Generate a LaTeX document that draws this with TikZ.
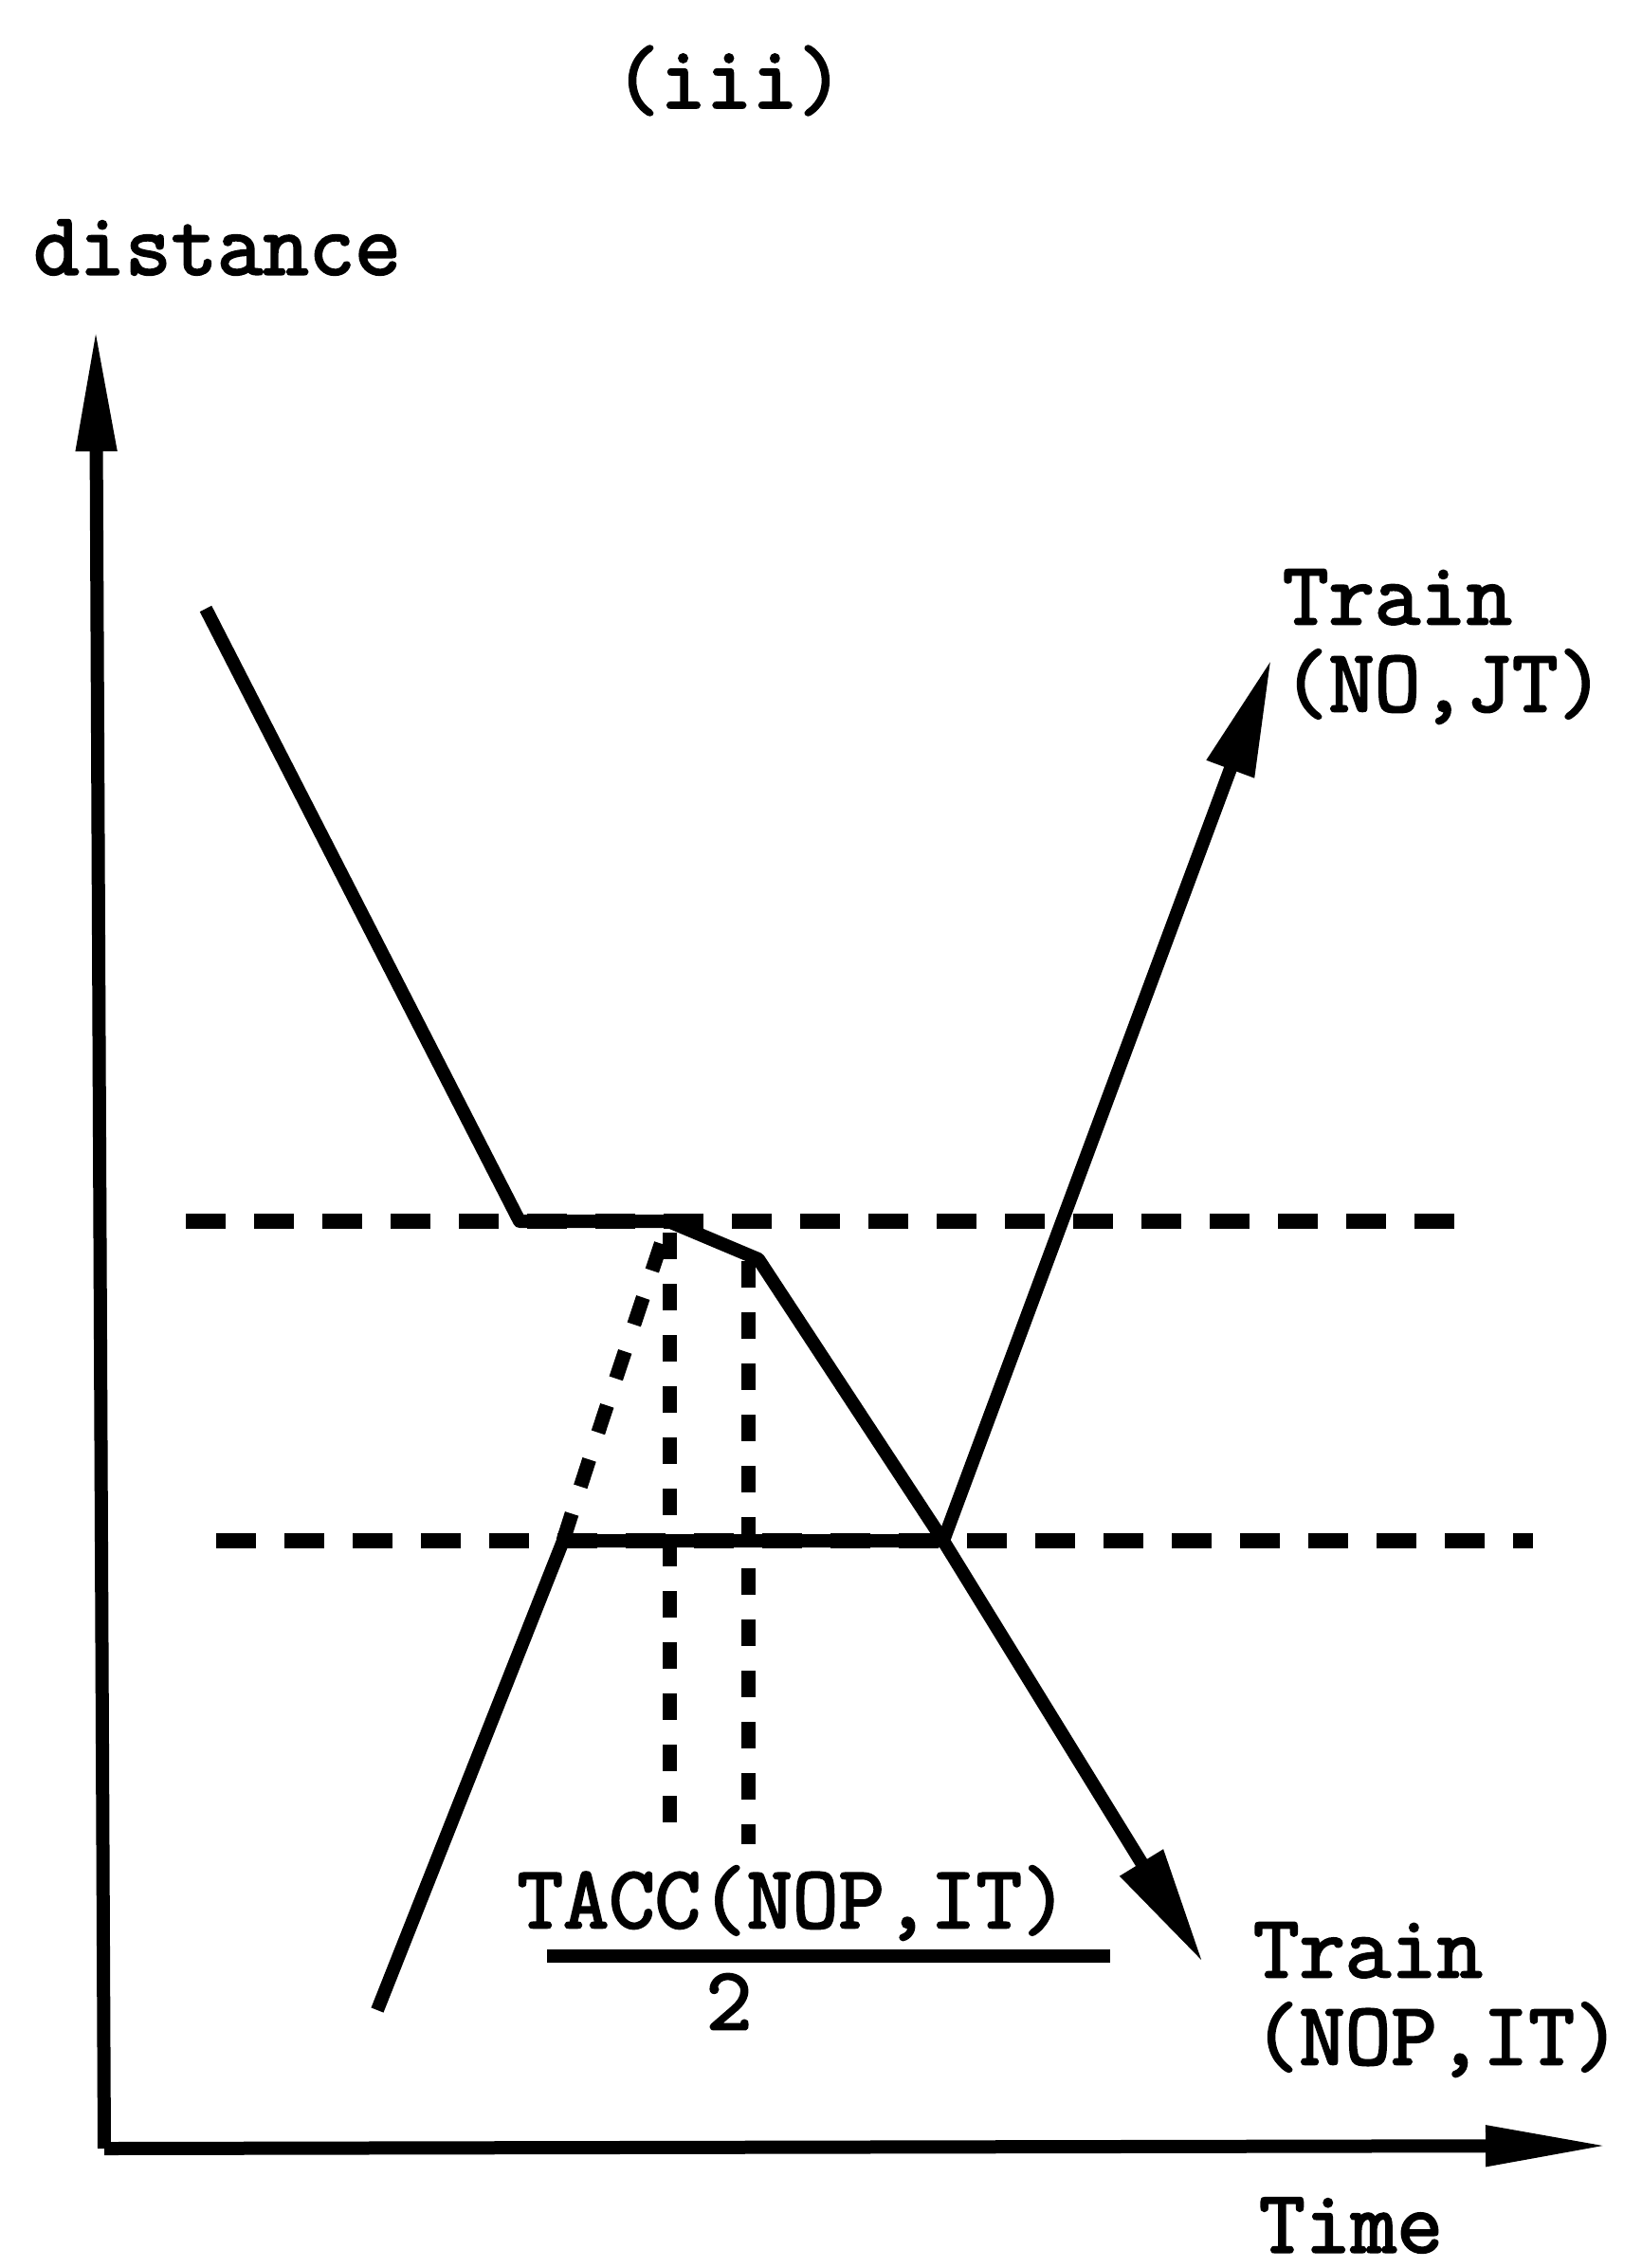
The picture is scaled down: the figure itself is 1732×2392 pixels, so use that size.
\documentclass[tikz,border=0pt]{standalone}
\usepackage{fontspec}
\newfontfamily\typefont[FakeBold=2.5]{Latin Modern Mono}
\usepackage{tikz}
\usetikzlibrary{arrows.meta}
\tikzset{>={Triangle[length=62pt,width=25pt]}}
\tikzset{axis/.style={-{Triangle[length=65pt,width=20pt]}}}
\tikzset{lbl/.style={font=\typefont\fontsize{47}{46}\selectfont, inner sep=0pt}}
\tikzset{level/.style={line width=8pt, dash pattern=on 21pt off 15pt}}
\tikzset{drop/.style={line width=7.5pt, dash pattern=on 14pt off 13pt}}
\tikzset{accel/.style={line width=7.5pt, dash pattern=on 15pt off 15pt}}

\begin{document}
\begin{tikzpicture}[x=0.5pt, y=-0.5pt, line width=7pt, line join=round]
\useasboundingbox (0,0) rectangle (1732,2392);
\coordinate (o) at (110,2266);
\coordinate (ytop) at (101,346);
\coordinate (xend) at (1697,2263);
\draw[axis] (o) -- (ytop);
\draw[axis] (o) -- (xend);
\node[lbl] (iii) at (769,85) {(iii)};
\node[lbl] (dist) at (229,261) {distance};
\node[lbl] (time) at (1425,2347) {Time};
\coordinate (up1) at (196,1288);
\coordinate (up2) at (1552,1288);
\coordinate (lo1) at (228,1625);
\coordinate (lo2) at (1617,1625);
\draw[level] (up1) -- (up2);
\draw[level] (lo1) -- (lo2);
\coordinate (a1) at (217,642);
\coordinate (b1) at (548,1288);
\coordinate (c1) at (705,1288);
\coordinate (d1) at (800,1328);
\coordinate (e) at (995,1625);
\coordinate (t1) at (1269,2070);
\coordinate (f2) at (398,2120);
\coordinate (g2) at (594,1625);
\coordinate (t2) at (1341,695);
\draw[->] (a1) -- (b1) -- (c1) -- (d1) -- (e) -- (t1);
\draw[->] (f2) -- (g2) -- (e) -- (t2);
\draw[accel] (g2) .. controls (640,1480) and (685,1350) .. (c1);
\coordinate (v1t) at (706,1300);
\coordinate (v1b) at (706,1945);
\coordinate (v2t) at (789,1330);
\coordinate (v2b) at (789,1945);
\draw[drop] (v1t) -- (v1b);
\draw[drop] (v2t) -- (v2b);
\node[lbl] (num) at (836,2007) {TACC(NOP,IT)};
\node[lbl] (den) at (769,2111) {2};
\coordinate (bar1) at (577,2063);
\coordinate (bar2) at (1171,2063);
\draw (bar1) -- (bar2);
\node[lbl, align=left, anchor=west] (trjt) at (1346,682) {Train\\(NO,JT)};
\node[lbl, align=left, anchor=west] (trit) at (1315,2109) {Train\\(NOP,IT)};
\end{tikzpicture}
\end{document}
